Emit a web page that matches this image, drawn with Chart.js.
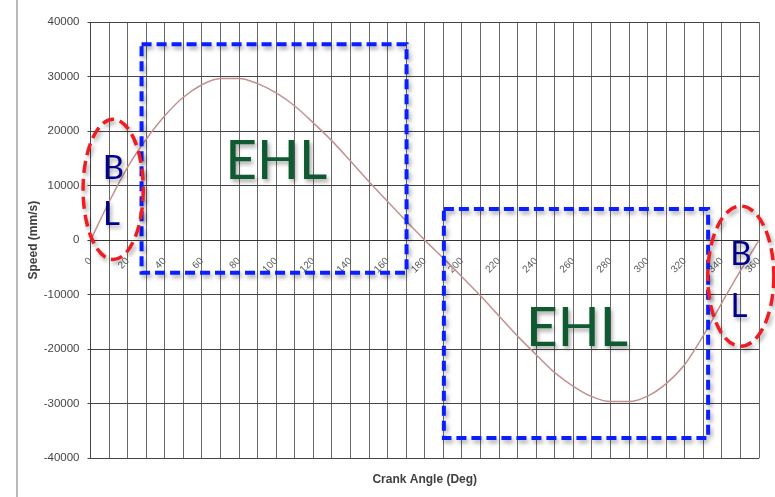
<!DOCTYPE html>
<html>
<head>
<meta charset="utf-8">
<title>Crank Angle vs Speed</title>
<script src="https://cdn.jsdelivr.net/npm/chart.js@4/dist/chart.umd.min.js"></script>
<style>
  html, body { margin: 0; padding: 0; background: #fff; }
  #wrap { position: relative; width: 775px; height: 497px; overflow: hidden; }
  #wrap canvas { position: absolute; left: 0; top: 0; }
  #edge { position: absolute; left: 16px; top: 0; width: 2px; height: 497px; background: #b8b8b8; }
</style>
</head>
<body>
<div id="wrap">
  <canvas id="chart" width="775" height="497"></canvas>
  <div id="edge"></div>
</div>
<script>
// Crank angle (deg) and piston sliding speed (mm/s)
const angles = [0, 10, 20, 30, 40, 50, 60, 70, 80, 90, 100, 110, 120, 130, 140, 150, 160, 170, 180,
                190, 200, 210, 220, 230, 240, 250, 260, 270, 280, 290, 300, 310, 320, 330, 340, 350, 360];
const speeds = [0, 7000, 13400, 18500, 22800, 26200, 28500, 29650, 29650, 28700, 27000, 24600, 21500,
                18200, 14500, 10700, 7100, 3500, 0, -3300, -6700, -10200, -13900, -17600, -21000,
                -24300, -26800, -28700, -29600, -29600, -28600, -26300, -22800, -17500, -11500, -5600, 0];

// Axis ranges
const angleRange = [0, 360];
const speedRange = [-40000, 40000];

// Lubrication regimes, in chart units (deg, mm/s)
const ehlZones = [
  { from: 27.5, to: 170.2, top: 35900, bottom: -6000, labelAt: [100, 11140] },
  { from: 190.3, to: 332.6, top: 5700, bottom: -36300, labelAt: [262, -19320] }
];
const blZones = [
  { at: [12.2, 9300], rx: 16.2, ry: 12850, b: [12.3, 11140], l: [11.3, 2750] },
  { at: [350.2, -6600], rx: 17.8, ry: 12850, b: [350.2, -4590], l: [349.2, -14130] }
];

const regimeOverlay = {
  id: 'regimeOverlay',
  afterDatasetsDraw(chart) {
    const { ctx, scales: { x, y } } = chart;
    const px = v => x.getPixelForValue(v);
    const py = v => y.getPixelForValue(v);
    ctx.save();
    ctx.shadowColor = 'rgba(0,0,0,0.35)';
    ctx.shadowBlur = 4;
    ctx.shadowOffsetX = 2;
    ctx.shadowOffsetY = 3;

    // EHL boxes
    ctx.strokeStyle = '#0a1eff';
    ctx.lineWidth = 4;
    ctx.setLineDash([10, 5]);
    ehlZones.forEach(z => {
      ctx.strokeRect(px(z.from), py(z.top), px(z.to) - px(z.from), py(z.bottom) - py(z.top));
    });

    // BL ellipses
    ctx.strokeStyle = '#f01c24';
    ctx.lineWidth = 3.5;
    ctx.setLineDash([12, 6]);
    blZones.forEach(z => {
      const cx = px(z.at[0]), cy = py(z.at[1]);
      const rx = Math.abs(px(z.at[0] + z.rx) - cx);
      const ry = Math.abs(py(z.at[1] + z.ry) - cy);
      ctx.beginPath();
      ctx.ellipse(cx, cy, rx, ry, 0, 0, Math.PI * 2);
      ctx.stroke();
    });
    ctx.setLineDash([]);

    // Labels
    ctx.textAlign = 'center';
    ctx.textBaseline = 'alphabetic';
    ctx.fillStyle = '#0f5a30';
    ctx.font = '55px Lato';
    ehlZones.forEach(z => ctx.fillText('EHL', px(z.labelAt[0]), py(z.labelAt[1])));

    ctx.fillStyle = '#00008c';
    ctx.font = '33px Lato';
    blZones.forEach(z => {
      ctx.fillText('B', px(z.b[0]), py(z.b[1]));
      ctx.fillText('L', px(z.l[0]), py(z.l[1]));
    });
    ctx.restore();
  }
};

new Chart(document.getElementById('chart'), {
  type: 'line',
  data: {
    datasets: [{
      data: angles.map((a, i) => ({ x: a, y: speeds[i] })),
      borderColor: '#c49090',
      borderWidth: 1.5,
      pointRadius: 0,
      cubicInterpolationMode: 'monotone',
      fill: false
    }]
  },
  options: {
    responsive: false,
    animation: false,
    events: [],
    layout: { padding: { top: 22, right: 16, left: 0, bottom: 0 } },
    plugins: { legend: { display: false }, tooltip: { enabled: false } },
    scales: {
      x: {
        type: 'linear',
        position: { y: 0 },
        min: angleRange[0],
        max: angleRange[1],
        ticks: {
          stepSize: 10,
          autoSkip: false,
          minRotation: 45,
          maxRotation: 45,
          padding: 15,
          color: '#595959',
          font: { family: 'Liberation Sans', size: 10 },
          callback: v => (v % 20 === 0 ? String(v) : '')
        },
        grid: { color: '#6a6a6a', lineWidth: 1, drawTicks: false },
        border: { color: '#333', width: 1 },
        // rotated labels sit inside the plot, so they need no side margin
        afterFit: s => { s.paddingLeft = 0; s.paddingRight = 0; }
      },
      xTitle: {
        type: 'linear',
        axis: 'x',
        position: 'bottom',
        min: angleRange[0],
        max: angleRange[1],
        ticks: { display: false },
        grid: { display: false },
        border: { display: false },
        title: {
          display: true,
          text: 'Crank Angle (Deg)',
          color: '#404040',
          font: { family: 'Liberation Sans', size: 12, weight: 'bold' },
          padding: { top: 0, bottom: 10 }
        },
        afterFit: s => { s.height = 38.7; s.paddingLeft = 0; s.paddingRight = 0; }
      },
      y: {
        min: speedRange[0],
        max: speedRange[1],
        ticks: {
          stepSize: 10000,
          padding: 8,
          color: '#454545',
          font: { family: 'Liberation Sans', size: 11.5 },
          callback: v => String(v)
        },
        grid: { color: '#444', lineWidth: 1, tickLength: 3 },
        border: { color: '#444', width: 1 },
        title: {
          display: true,
          text: 'Speed (mm/s)',
          color: '#404040',
          font: { family: 'Liberation Sans', size: 12, weight: 'bold' },
          padding: { top: 26, bottom: 0 }
        },
        afterFit: s => { s.width = 90.5; }
      }
    }
  },
  plugins: [regimeOverlay]
});
</script>
</body>
</html>
